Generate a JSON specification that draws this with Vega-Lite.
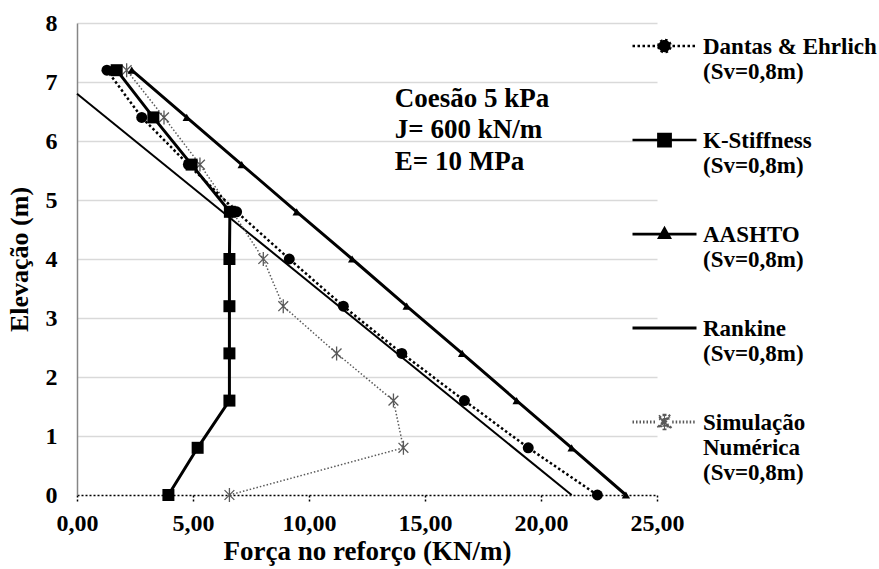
{
  "$schema": "https://vega.github.io/schema/vega-lite/v6.json",
  "width": 580,
  "height": 472,
  "autosize": {"type": "none"},
  "padding": {"left": 77, "top": 23, "right": 222, "bottom": 74},
  "background": "white",
  "config": {"view": {"stroke": null}, "font": "Liberation Serif"},
  "datasets": {
    "profiles": [
      {"series": "Dantas & Ehrlich", "force": 1.29, "elev": 7.2},
      {"series": "Dantas & Ehrlich", "force": 2.79, "elev": 6.4},
      {"series": "Dantas & Ehrlich", "force": 4.8, "elev": 5.6},
      {"series": "Dantas & Ehrlich", "force": 6.88, "elev": 4.8},
      {"series": "Dantas & Ehrlich", "force": 9.15, "elev": 4.0},
      {"series": "Dantas & Ehrlich", "force": 11.48, "elev": 3.2},
      {"series": "Dantas & Ehrlich", "force": 14.0, "elev": 2.4},
      {"series": "Dantas & Ehrlich", "force": 16.7, "elev": 1.6},
      {"series": "Dantas & Ehrlich", "force": 19.45, "elev": 0.8},
      {"series": "Dantas & Ehrlich", "force": 22.43, "elev": 0.0},
      {"series": "K-Stiffness", "force": 1.71, "elev": 7.2},
      {"series": "K-Stiffness", "force": 3.29, "elev": 6.4},
      {"series": "K-Stiffness", "force": 4.94, "elev": 5.6},
      {"series": "K-Stiffness", "force": 6.59, "elev": 4.8},
      {"series": "K-Stiffness", "force": 6.57, "elev": 4.0},
      {"series": "K-Stiffness", "force": 6.57, "elev": 3.2},
      {"series": "K-Stiffness", "force": 6.57, "elev": 2.4},
      {"series": "K-Stiffness", "force": 6.57, "elev": 1.6},
      {"series": "K-Stiffness", "force": 5.2, "elev": 0.8},
      {"series": "K-Stiffness", "force": 3.94, "elev": 0.0},
      {"series": "AASHTO", "force": 2.36, "elev": 7.2},
      {"series": "AASHTO", "force": 4.73, "elev": 6.4},
      {"series": "AASHTO", "force": 7.1, "elev": 5.6},
      {"series": "AASHTO", "force": 9.47, "elev": 4.8},
      {"series": "AASHTO", "force": 11.86, "elev": 4.0},
      {"series": "AASHTO", "force": 14.21, "elev": 3.2},
      {"series": "AASHTO", "force": 16.6, "elev": 2.4},
      {"series": "AASHTO", "force": 18.95, "elev": 1.6},
      {"series": "AASHTO", "force": 21.32, "elev": 0.8},
      {"series": "AASHTO", "force": 23.66, "elev": 0.0},
      {"series": "Rankine", "force": 0.0, "elev": 6.8},
      {"series": "Rankine", "force": 21.32, "elev": 0.0},
      {"series": "Simulação Numérica", "force": 2.14, "elev": 7.2},
      {"series": "Simulação Numérica", "force": 3.75, "elev": 6.4},
      {"series": "Simulação Numérica", "force": 5.3, "elev": 5.6},
      {"series": "Simulação Numérica", "force": 6.7, "elev": 4.8},
      {"series": "Simulação Numérica", "force": 8.03, "elev": 4.0},
      {"series": "Simulação Numérica", "force": 8.89, "elev": 3.2},
      {"series": "Simulação Numérica", "force": 11.19, "elev": 2.4},
      {"series": "Simulação Numérica", "force": 13.64, "elev": 1.6},
      {"series": "Simulação Numérica", "force": 14.07, "elev": 0.8},
      {"series": "Simulação Numérica", "force": 6.57, "elev": 0.0}
    ],
    "notes": [
      {"force": 13.7, "elev": 6.58, "label": "Coesão 5 kPa"},
      {"force": 13.7, "elev": 6.05, "label": "J= 600 kN/m"},
      {"force": 13.7, "elev": 5.51, "label": "E= 10 MPa"}
    ]
  },
  "encoding": {
    "x": {
      "field": "force", "type": "quantitative",
      "scale": {"domain": [0, 25], "nice": false, "zero": false},
      "axis": {
        "title": "Força no reforço (KN/m)",
        "values": [0, 5, 10, 15, 20, 25],
        "labelExpr": "replace(format(datum.value, '.2f'), '.', ',')",
        "labelFlush": false, "labelOverlap": false, "labelBound": false,
        "grid": false,
        "domainColor": "black", "domainDash": [2, 2], "domainWidth": 1.5,
        "tickColor": "black", "tickDash": [2, 2], "tickWidth": 1.5, "tickSize": 6,
        "labelFont": "Liberation Serif", "labelFontWeight": "bold", "labelFontSize": 24, "labelColor": "black", "labelPadding": 10,
        "titleFont": "Liberation Serif", "titleFontWeight": "bold", "titleFontSize": 27, "titleColor": "black", "titlePadding": 3
      }
    },
    "y": {
      "field": "elev", "type": "quantitative",
      "scale": {"domain": [0, 8], "nice": false, "zero": false},
      "axis": {
        "title": "Elevação (m)",
        "values": [0, 1, 2, 3, 4, 5, 6, 7, 8],
        "format": "d",
        "grid": true, "gridColor": "#d9d9d9", "gridWidth": 1.5,
        "gridOpacity": {"condition": {"test": "datum.value == 0", "value": 0}, "value": 1},
        "domainColor": "#868686", "domainWidth": 1.5,
        "ticks": false,
        "labelFont": "Liberation Serif", "labelFontWeight": "bold", "labelFontSize": 24, "labelColor": "black", "labelPadding": 20,
        "titleFont": "Liberation Serif", "titleFontWeight": "bold", "titleFontSize": 26, "titleColor": "black", "titlePadding": 13
      }
    }
  },
  "layer": [
    {
      "data": {"name": "profiles"},
      "transform": [{"filter": "datum.series == 'Rankine'"}],
      "mark": {"type": "line", "color": "black", "strokeWidth": 2},
      "encoding": {"order": {"field": "elev", "type": "quantitative"}}
    },
    {
      "data": {"name": "profiles"},
      "transform": [{"filter": "datum.series == 'Simulação Numérica'"}],
      "mark": {"type": "line", "color": "#595959", "strokeWidth": 1.5, "strokeDash": [1.5, 2]},
      "encoding": {"order": {"field": "elev", "type": "quantitative"}}
    },
    {
      "data": {"name": "profiles"},
      "transform": [{"filter": "datum.series == 'Simulação Numérica'"}],
      "mark": {"type": "point", "shape": "M-0.7,-0.7L0.7,0.7M-0.7,0.7L0.7,-0.7M0,-1L0,1", "size": 196, "filled": false, "stroke": "#595959", "strokeWidth": 1.3, "opacity": 1}
    },
    {
      "data": {"name": "profiles"},
      "transform": [{"filter": "datum.series == 'Dantas & Ehrlich'"}],
      "mark": {"type": "line", "color": "black", "strokeWidth": 2.5, "strokeDash": [2.5, 2.5]},
      "encoding": {"order": {"field": "elev", "type": "quantitative"}}
    },
    {
      "data": {"name": "profiles"},
      "transform": [{"filter": "datum.series == 'Dantas & Ehrlich'"}],
      "mark": {"type": "point", "shape": "circle", "size": 120, "filled": true, "color": "black", "opacity": 1}
    },
    {
      "data": {"name": "profiles"},
      "transform": [{"filter": "datum.series == 'K-Stiffness'"}],
      "mark": {"type": "line", "color": "black", "strokeWidth": 3},
      "encoding": {"order": {"field": "elev", "type": "quantitative"}}
    },
    {
      "data": {"name": "profiles"},
      "transform": [{"filter": "datum.series == 'K-Stiffness'"}],
      "mark": {"type": "point", "shape": "square", "size": 144, "filled": true, "color": "black", "opacity": 1}
    },
    {
      "data": {"name": "profiles"},
      "transform": [{"filter": "datum.series == 'AASHTO'"}],
      "mark": {"type": "line", "color": "black", "strokeWidth": 3},
      "encoding": {"order": {"field": "elev", "type": "quantitative"}}
    },
    {
      "data": {"name": "profiles"},
      "transform": [{"filter": "datum.series == 'AASHTO'"}],
      "mark": {"type": "point", "shape": "triangle-up", "size": 70, "filled": true, "color": "black", "opacity": 1}
    },
    {
      "data": {"name": "profiles"},
      "mark": {"type": "point", "filled": true, "opacity": 0},
      "encoding": {
        "shape": {
          "field": "series", "type": "nominal",
          "scale": {
            "domain": ["Dantas & Ehrlich", "K-Stiffness", "AASHTO", "Rankine", "Simulação Numérica"],
            "range": [
              "M-1,0.33H1M-0.19,0.33A0.19,0.19,0,1,1,0.19,0.33A0.19,0.19,0,1,1,-0.19,0.33Z",
              "M-1,0.33H1M-0.19,0.14H0.19V0.52H-0.19Z",
              "M-1,0.33H1M0,0.16L0.16,0.44H-0.16Z",
              "M-1,0.33H1",
              "M-1,0.33H-0.24M0.24,0.33H1M-0.015,0.12H0.015V0.54H-0.015ZM-0.155,0.165L0.175,0.495L0.155,0.515L-0.175,0.185ZM-0.175,0.475L0.155,0.145L0.175,0.165L-0.155,0.495Z"
            ]
          },
          "legend": {
            "title": null, "orient": "none", "legendX": 554, "legendY": -21, "direction": "vertical",
            "padding": 0, "rowPadding": 12, "symbolSize": 4096, "labelOffset": 5, "labelLimit": 400,
            "labelBaseline": "top", "labelFont": "Liberation Serif", "labelFontWeight": "bold", "labelFontSize": 23, "labelColor": "black",
            "symbolOpacity": 1,
            "labelExpr": "datum.label == 'Simulação Numérica' ? ['Simulação', 'Numérica', '(Sv=0,8m)'] : [datum.label, '(Sv=0,8m)']"
          }
        },
        "stroke": {
          "field": "series", "type": "nominal",
          "scale": {"domain": ["Dantas & Ehrlich", "K-Stiffness", "AASHTO", "Rankine", "Simulação Numérica"], "range": ["black", "black", "black", "black", "#595959"]}
        },
        "fill": {
          "field": "series", "type": "nominal",
          "scale": {"domain": ["Dantas & Ehrlich", "K-Stiffness", "AASHTO", "Rankine", "Simulação Numérica"], "range": ["black", "black", "black", "black", "#595959"]}
        },
        "strokeDash": {
          "field": "series", "type": "nominal",
          "scale": {"domain": ["Dantas & Ehrlich", "K-Stiffness", "AASHTO", "Rankine", "Simulação Numérica"], "range": [[2.5, 2.5], [1, 0], [1, 0], [1, 0], [1.5, 2]]}
        },
        "strokeWidth": {
          "field": "series", "type": "nominal",
          "scale": {"domain": ["Dantas & Ehrlich", "K-Stiffness", "AASHTO", "Rankine", "Simulação Numérica"], "range": [2.5, 3, 3, 2, 1.5]}
        }
      }
    },
    {
      "data": {"name": "notes"},
      "mark": {"type": "text", "align": "left", "baseline": "alphabetic", "font": "Liberation Serif", "fontWeight": "bold", "fontSize": 27, "color": "black"},
      "encoding": {"text": {"field": "label", "type": "nominal"}}
    }
  ]
}
